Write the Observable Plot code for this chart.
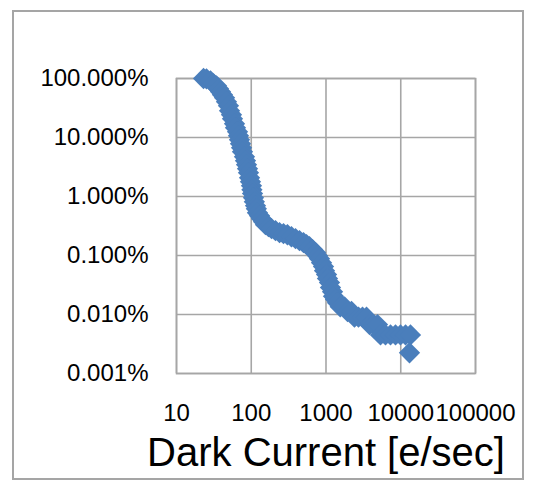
<!DOCTYPE html>
<html><head><meta charset="utf-8">
<script src="https://cdn.jsdelivr.net/npm/d3@7"></script>
<script src="https://cdn.jsdelivr.net/npm/@observablehq/plot@0.6"></script>
<style>
body{margin:0;background:#fff;}
#wrap{position:relative;width:533px;height:482px;overflow:hidden;}
#border{position:absolute;left:12px;top:10px;width:508px;height:466px;border:2px solid #a5a5a5;pointer-events:none;}
</style></head><body>
<div id="wrap"><div id="chart"></div><div id="border"></div></div>
<script>
const darkCurrent = [23.0, 25.2, 28.5, 31.3, 34.3, 36.5, 38.8, 41.2, 43.9, 46.6, 49.6, 51.2, 54.4, 56.1, 59.7, 61.5, 65.5, 67.5, 69.6, 71.8, 74.1, 76.3, 81.2, 83.7, 86.4, 89.1, 91.8, 94.8, 97.7, 100.7, 102, 104, 107, 110, 114, 117, 121, 129, 137, 146, 155, 170, 187, 211, 239, 270, 305, 345, 391, 442, 500, 548, 601, 659, 724, 769, 819, 871, 926, 955, 1016, 1047, 1114, 1148, 1222, 1259, 1340, 1425, 1550, 1770, 1941, 2195, 2404, 2722, 3078, 3484, 3822, 4319, 4884, 5358, 6250, 7290, 8510, 9930, 11590, 13490, 13090];
const percentAbove = [100, 98.8, 91.4, 81.3, 75.2, 67, 59.6, 53, 47.1, 40.3, 34.5, 28.4, 24.3, 20.8, 17.1, 14.6, 12.5, 10.7, 9.17, 7.84, 6.71, 5.74, 4.72, 4.04, 3.46, 2.96, 2.53, 2.08, 1.78, 1.52, 1.30, 1.12, 0.955, 0.817, 0.698, 0.621, 0.531, 0.473, 0.421, 0.375, 0.333, 0.308, 0.285, 0.264, 0.244, 0.234, 0.225, 0.208, 0.193, 0.179, 0.165, 0.153, 0.141, 0.126, 0.112, 0.0995, 0.0885, 0.0757, 0.0648, 0.0554, 0.0475, 0.0406, 0.0347, 0.0286, 0.0244, 0.0203, 0.018, 0.01575, 0.0135, 0.0135, 0.01125, 0.01125, 0.009, 0.009, 0.009, 0.009, 0.00675, 0.00675, 0.00675, 0.0045, 0.0045, 0.0045, 0.0045, 0.0045, 0.0045, 0.0045, 0.00225];
const xTicks = [10, 100, 1000, 10000, 100000];
const xTickLabels = ["10", "100", "1000", "10000", "100000"];
const yTicks = [100, 10, 1, 0.1, 0.01, 0.001];
const yTickLabels = ["100.000%", "10.000%", "1.000%", "0.100%", "0.010%", "0.001%"];
const xTitle = "Dark Current [e/sec]";

const data = darkCurrent.map((x, i) => ({x, y: percentAbove[i]}));
const gridColor = "#a6a6a6";
const chart = Plot.plot({
  width: 533, height: 482,
  marginLeft: 176, marginRight: 58, marginTop: 78, marginBottom: 109,
  style: {fontFamily: "'Liberation Sans', Arial, sans-serif", background: "#fff", color: "#000"},
  x: {type: "log", domain: [10, 100000]},
  y: {type: "log", domain: [0.001, 100]},
  marks: [
    Plot.gridX(xTicks, {stroke: gridColor, strokeOpacity: 1, strokeWidth: 1.6}),
    Plot.gridY(yTicks, {stroke: gridColor, strokeOpacity: 1, strokeWidth: 1.6}),
    Plot.frame({stroke: gridColor, strokeWidth: 1.6}),
    Plot.axisX(xTicks, {tickSize: 0, tickPadding: 30, fontSize: 24, label: null,
      tickFormat: d => xTickLabels[xTicks.indexOf(d)]}),
    Plot.axisY(yTicks, {tickSize: 0, tickPadding: 28, fontSize: 24, label: null,
      tickFormat: d => yTickLabels[yTicks.indexOf(d)]}),
    Plot.dot(data, {x: "x", y: "y", symbol: "diamond2", r: 9.6, fill: "#4a7ebb", stroke: "none"}),
    Plot.text([xTitle], {frameAnchor: "bottom", lineAnchor: "middle", text: d => d, dy: 80, fontSize: 40, fill: "#000"})
  ]
});
document.getElementById("chart").appendChild(chart);
</script>
</body></html>
